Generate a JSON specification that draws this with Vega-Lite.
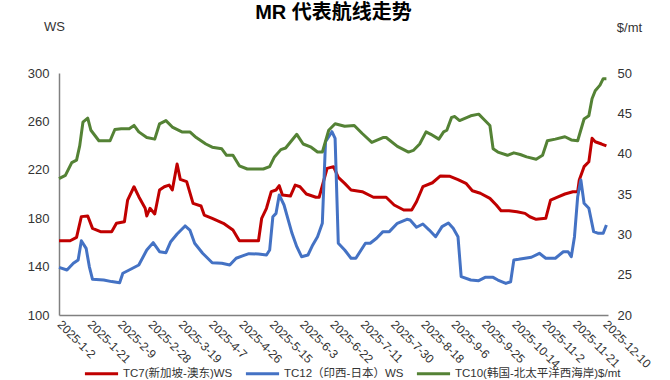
{
  "$schema": "https://vega.github.io/schema/vega-lite/v6.json",
  "width": 549,
  "height": 242,
  "autosize": {"type": "none"},
  "padding": {"left": 59, "top": 73, "right": 62, "bottom": 65},
  "background": "white",
  "config": {
    "view": {"stroke": null},
    "font": "Liberation Sans, Noto Sans CJK SC, sans-serif",
    "axis": {"grid": false, "ticks": false, "tickSize": 0, "labelFont": "Liberation Sans, Noto Sans CJK SC, sans-serif", "labelColor": "#333333", "labelFontSize": 13, "domainColor": "#808080", "domainWidth": 1.5, "titleFont": "Liberation Sans, Noto Sans CJK SC, sans-serif", "titleFontWeight": "normal", "titleColor": "#333333", "titleFontSize": 13}
  },
  "title": {
    "text": "MR  代表航线走势",
    "font": "Liberation Sans, Noto Sans CJK SC, sans-serif",
    "fontSize": 20,
    "fontWeight": "bold",
    "color": "#000000",
    "anchor": "middle",
    "frame": "group",
    "offset": -3
  },
  "data": {
    "values": [
      {"date": "2025-01-02", "series": "TC7", "value": 161.4},
      {"date": "2025-01-09", "series": "TC7", "value": 161.4},
      {"date": "2025-01-13", "series": "TC7", "value": 164.2},
      {"date": "2025-01-16", "series": "TC7", "value": 181.3},
      {"date": "2025-01-20", "series": "TC7", "value": 181.8},
      {"date": "2025-01-23", "series": "TC7", "value": 171.6},
      {"date": "2025-01-28", "series": "TC7", "value": 168.9},
      {"date": "2025-02-04", "series": "TC7", "value": 168.9},
      {"date": "2025-02-07", "series": "TC7", "value": 175.8},
      {"date": "2025-02-12", "series": "TC7", "value": 177.1},
      {"date": "2025-02-14", "series": "TC7", "value": 195.0},
      {"date": "2025-02-18", "series": "TC7", "value": 206.0},
      {"date": "2025-02-21", "series": "TC7", "value": 197.8},
      {"date": "2025-02-25", "series": "TC7", "value": 188.2},
      {"date": "2025-02-26", "series": "TC7", "value": 181.8},
      {"date": "2025-02-28", "series": "TC7", "value": 188.2},
      {"date": "2025-03-03", "series": "TC7", "value": 183.5},
      {"date": "2025-03-06", "series": "TC7", "value": 203.3},
      {"date": "2025-03-09", "series": "TC7", "value": 206.0},
      {"date": "2025-03-12", "series": "TC7", "value": 207.4},
      {"date": "2025-03-14", "series": "TC7", "value": 203.3},
      {"date": "2025-03-17", "series": "TC7", "value": 224.8},
      {"date": "2025-03-19", "series": "TC7", "value": 212.1},
      {"date": "2025-03-23", "series": "TC7", "value": 210.2},
      {"date": "2025-03-27", "series": "TC7", "value": 192.3},
      {"date": "2025-04-01", "series": "TC7", "value": 190.1},
      {"date": "2025-04-03", "series": "TC7", "value": 182.6},
      {"date": "2025-04-08", "series": "TC7", "value": 179.9},
      {"date": "2025-04-15", "series": "TC7", "value": 175.8},
      {"date": "2025-04-21", "series": "TC7", "value": 170.2},
      {"date": "2025-04-25", "series": "TC7", "value": 161.4},
      {"date": "2025-05-07", "series": "TC7", "value": 161.4},
      {"date": "2025-05-09", "series": "TC7", "value": 179.9},
      {"date": "2025-05-12", "series": "TC7", "value": 188.2},
      {"date": "2025-05-15", "series": "TC7", "value": 201.9},
      {"date": "2025-05-18", "series": "TC7", "value": 203.3},
      {"date": "2025-05-20", "series": "TC7", "value": 206.9},
      {"date": "2025-05-22", "series": "TC7", "value": 199.2},
      {"date": "2025-05-27", "series": "TC7", "value": 198.3},
      {"date": "2025-05-30", "series": "TC7", "value": 207.4},
      {"date": "2025-06-02", "series": "TC7", "value": 206.0},
      {"date": "2025-06-06", "series": "TC7", "value": 200.0},
      {"date": "2025-06-12", "series": "TC7", "value": 197.3},
      {"date": "2025-06-14", "series": "TC7", "value": 197.3},
      {"date": "2025-06-19", "series": "TC7", "value": 221.2},
      {"date": "2025-06-23", "series": "TC7", "value": 222.6},
      {"date": "2025-06-26", "series": "TC7", "value": 213.8},
      {"date": "2025-06-30", "series": "TC7", "value": 208.8},
      {"date": "2025-07-04", "series": "TC7", "value": 203.3},
      {"date": "2025-07-11", "series": "TC7", "value": 201.9},
      {"date": "2025-07-18", "series": "TC7", "value": 197.3},
      {"date": "2025-07-26", "series": "TC7", "value": 197.3},
      {"date": "2025-07-31", "series": "TC7", "value": 190.9},
      {"date": "2025-08-06", "series": "TC7", "value": 186.8},
      {"date": "2025-08-11", "series": "TC7", "value": 186.8},
      {"date": "2025-08-14", "series": "TC7", "value": 193.6},
      {"date": "2025-08-18", "series": "TC7", "value": 206.0},
      {"date": "2025-08-24", "series": "TC7", "value": 209.3},
      {"date": "2025-08-29", "series": "TC7", "value": 214.9},
      {"date": "2025-09-04", "series": "TC7", "value": 214.6},
      {"date": "2025-09-09", "series": "TC7", "value": 211.9},
      {"date": "2025-09-14", "series": "TC7", "value": 208.8},
      {"date": "2025-09-18", "series": "TC7", "value": 202.7},
      {"date": "2025-09-23", "series": "TC7", "value": 200.6},
      {"date": "2025-09-29", "series": "TC7", "value": 196.4},
      {"date": "2025-10-03", "series": "TC7", "value": 190.9},
      {"date": "2025-10-06", "series": "TC7", "value": 186.2},
      {"date": "2025-10-11", "series": "TC7", "value": 186.2},
      {"date": "2025-10-16", "series": "TC7", "value": 185.4},
      {"date": "2025-10-21", "series": "TC7", "value": 184.0},
      {"date": "2025-10-24", "series": "TC7", "value": 181.2},
      {"date": "2025-10-28", "series": "TC7", "value": 179.1},
      {"date": "2025-11-03", "series": "TC7", "value": 179.9},
      {"date": "2025-11-06", "series": "TC7", "value": 195.0},
      {"date": "2025-11-10", "series": "TC7", "value": 197.3},
      {"date": "2025-11-15", "series": "TC7", "value": 200.0},
      {"date": "2025-11-20", "series": "TC7", "value": 201.9},
      {"date": "2025-11-23", "series": "TC7", "value": 201.9},
      {"date": "2025-11-24", "series": "TC7", "value": 211.6},
      {"date": "2025-11-27", "series": "TC7", "value": 222.6},
      {"date": "2025-11-30", "series": "TC7", "value": 226.7},
      {"date": "2025-12-02", "series": "TC7", "value": 246.0},
      {"date": "2025-12-04", "series": "TC7", "value": 243.2},
      {"date": "2025-12-08", "series": "TC7", "value": 241.3},
      {"date": "2025-12-11", "series": "TC7", "value": 239.7},

      {"date": "2025-01-02", "series": "TC12", "value": 139.4},
      {"date": "2025-01-07", "series": "TC12", "value": 137.2},
      {"date": "2025-01-11", "series": "TC12", "value": 142.7},
      {"date": "2025-01-14", "series": "TC12", "value": 145.5},
      {"date": "2025-01-16", "series": "TC12", "value": 161.4},
      {"date": "2025-01-19", "series": "TC12", "value": 155.1},
      {"date": "2025-01-21", "series": "TC12", "value": 140.0},
      {"date": "2025-01-23", "series": "TC12", "value": 129.5},
      {"date": "2025-01-30", "series": "TC12", "value": 128.9},
      {"date": "2025-02-04", "series": "TC12", "value": 127.6},
      {"date": "2025-02-09", "series": "TC12", "value": 126.7},
      {"date": "2025-02-11", "series": "TC12", "value": 134.5},
      {"date": "2025-02-15", "series": "TC12", "value": 137.2},
      {"date": "2025-02-21", "series": "TC12", "value": 141.3},
      {"date": "2025-02-26", "series": "TC12", "value": 153.7},
      {"date": "2025-03-02", "series": "TC12", "value": 159.8},
      {"date": "2025-03-06", "series": "TC12", "value": 152.3},
      {"date": "2025-03-10", "series": "TC12", "value": 151.5},
      {"date": "2025-03-13", "series": "TC12", "value": 160.6},
      {"date": "2025-03-17", "series": "TC12", "value": 166.9},
      {"date": "2025-03-22", "series": "TC12", "value": 173.6},
      {"date": "2025-03-25", "series": "TC12", "value": 170.2},
      {"date": "2025-03-28", "series": "TC12", "value": 159.3},
      {"date": "2025-04-02", "series": "TC12", "value": 151.0},
      {"date": "2025-04-08", "series": "TC12", "value": 143.2},
      {"date": "2025-04-14", "series": "TC12", "value": 142.7},
      {"date": "2025-04-19", "series": "TC12", "value": 141.3},
      {"date": "2025-04-23", "series": "TC12", "value": 146.9},
      {"date": "2025-04-27", "series": "TC12", "value": 148.8},
      {"date": "2025-05-01", "series": "TC12", "value": 150.7},
      {"date": "2025-05-07", "series": "TC12", "value": 150.4},
      {"date": "2025-05-12", "series": "TC12", "value": 149.6},
      {"date": "2025-05-14", "series": "TC12", "value": 153.7},
      {"date": "2025-05-16", "series": "TC12", "value": 181.2},
      {"date": "2025-05-18", "series": "TC12", "value": 184.0},
      {"date": "2025-05-20", "series": "TC12", "value": 199.2},
      {"date": "2025-05-23", "series": "TC12", "value": 190.9},
      {"date": "2025-05-28", "series": "TC12", "value": 167.5},
      {"date": "2025-05-31", "series": "TC12", "value": 156.5},
      {"date": "2025-06-03", "series": "TC12", "value": 148.2},
      {"date": "2025-06-07", "series": "TC12", "value": 149.6},
      {"date": "2025-06-10", "series": "TC12", "value": 157.9},
      {"date": "2025-06-13", "series": "TC12", "value": 164.7},
      {"date": "2025-06-16", "series": "TC12", "value": 175.8},
      {"date": "2025-06-18", "series": "TC12", "value": 243.2},
      {"date": "2025-06-22", "series": "TC12", "value": 251.5},
      {"date": "2025-06-24", "series": "TC12", "value": 246.0},
      {"date": "2025-06-26", "series": "TC12", "value": 159.3},
      {"date": "2025-06-30", "series": "TC12", "value": 153.7},
      {"date": "2025-07-04", "series": "TC12", "value": 146.9},
      {"date": "2025-07-07", "series": "TC12", "value": 146.9},
      {"date": "2025-07-13", "series": "TC12", "value": 159.3},
      {"date": "2025-07-16", "series": "TC12", "value": 159.3},
      {"date": "2025-07-20", "series": "TC12", "value": 163.4},
      {"date": "2025-07-24", "series": "TC12", "value": 168.9},
      {"date": "2025-07-28", "series": "TC12", "value": 168.9},
      {"date": "2025-08-02", "series": "TC12", "value": 175.8},
      {"date": "2025-08-08", "series": "TC12", "value": 179.1},
      {"date": "2025-08-10", "series": "TC12", "value": 178.5},
      {"date": "2025-08-14", "series": "TC12", "value": 172.5},
      {"date": "2025-08-18", "series": "TC12", "value": 175.2},
      {"date": "2025-08-22", "series": "TC12", "value": 170.2},
      {"date": "2025-08-26", "series": "TC12", "value": 164.7},
      {"date": "2025-08-30", "series": "TC12", "value": 173.0},
      {"date": "2025-09-03", "series": "TC12", "value": 176.0},
      {"date": "2025-09-06", "series": "TC12", "value": 171.6},
      {"date": "2025-09-09", "series": "TC12", "value": 164.7},
      {"date": "2025-09-11", "series": "TC12", "value": 131.7},
      {"date": "2025-09-17", "series": "TC12", "value": 128.9},
      {"date": "2025-09-22", "series": "TC12", "value": 128.4},
      {"date": "2025-09-26", "series": "TC12", "value": 131.1},
      {"date": "2025-10-01", "series": "TC12", "value": 131.1},
      {"date": "2025-10-04", "series": "TC12", "value": 128.9},
      {"date": "2025-10-09", "series": "TC12", "value": 126.1},
      {"date": "2025-10-12", "series": "TC12", "value": 127.5},
      {"date": "2025-10-14", "series": "TC12", "value": 145.5},
      {"date": "2025-10-17", "series": "TC12", "value": 146.0},
      {"date": "2025-10-21", "series": "TC12", "value": 146.9},
      {"date": "2025-10-25", "series": "TC12", "value": 147.7},
      {"date": "2025-10-30", "series": "TC12", "value": 151.0},
      {"date": "2025-11-03", "series": "TC12", "value": 146.9},
      {"date": "2025-11-09", "series": "TC12", "value": 146.9},
      {"date": "2025-11-14", "series": "TC12", "value": 152.3},
      {"date": "2025-11-17", "series": "TC12", "value": 152.3},
      {"date": "2025-11-19", "series": "TC12", "value": 148.2},
      {"date": "2025-11-21", "series": "TC12", "value": 164.7},
      {"date": "2025-11-23", "series": "TC12", "value": 197.8},
      {"date": "2025-11-25", "series": "TC12", "value": 211.6},
      {"date": "2025-11-27", "series": "TC12", "value": 192.3},
      {"date": "2025-11-30", "series": "TC12", "value": 188.2},
      {"date": "2025-12-03", "series": "TC12", "value": 168.9},
      {"date": "2025-12-06", "series": "TC12", "value": 167.5},
      {"date": "2025-12-09", "series": "TC12", "value": 167.5},
      {"date": "2025-12-11", "series": "TC12", "value": 174.4},

      {"date": "2025-01-02", "series": "TC10", "value": 36.9},
      {"date": "2025-01-06", "series": "TC10", "value": 37.3},
      {"date": "2025-01-10", "series": "TC10", "value": 38.9},
      {"date": "2025-01-13", "series": "TC10", "value": 39.2},
      {"date": "2025-01-15", "series": "TC10", "value": 41.0},
      {"date": "2025-01-17", "series": "TC10", "value": 43.9},
      {"date": "2025-01-20", "series": "TC10", "value": 44.4},
      {"date": "2025-01-22", "series": "TC10", "value": 42.9},
      {"date": "2025-01-27", "series": "TC10", "value": 41.6},
      {"date": "2025-02-03", "series": "TC10", "value": 41.6},
      {"date": "2025-02-06", "series": "TC10", "value": 43.0},
      {"date": "2025-02-10", "series": "TC10", "value": 43.1},
      {"date": "2025-02-15", "series": "TC10", "value": 43.1},
      {"date": "2025-02-18", "series": "TC10", "value": 43.5},
      {"date": "2025-02-21", "series": "TC10", "value": 42.7},
      {"date": "2025-02-26", "series": "TC10", "value": 42.0},
      {"date": "2025-03-03", "series": "TC10", "value": 41.8},
      {"date": "2025-03-06", "series": "TC10", "value": 43.7},
      {"date": "2025-03-10", "series": "TC10", "value": 44.1},
      {"date": "2025-03-14", "series": "TC10", "value": 43.3},
      {"date": "2025-03-20", "series": "TC10", "value": 42.7},
      {"date": "2025-03-25", "series": "TC10", "value": 42.7},
      {"date": "2025-03-29", "series": "TC10", "value": 42.0},
      {"date": "2025-04-04", "series": "TC10", "value": 41.2},
      {"date": "2025-04-08", "series": "TC10", "value": 40.8},
      {"date": "2025-04-14", "series": "TC10", "value": 40.6},
      {"date": "2025-04-17", "series": "TC10", "value": 39.8},
      {"date": "2025-04-21", "series": "TC10", "value": 39.8},
      {"date": "2025-04-25", "series": "TC10", "value": 38.5},
      {"date": "2025-04-30", "series": "TC10", "value": 38.1},
      {"date": "2025-05-08", "series": "TC10", "value": 38.1},
      {"date": "2025-05-10", "series": "TC10", "value": 38.1},
      {"date": "2025-05-14", "series": "TC10", "value": 38.4},
      {"date": "2025-05-17", "series": "TC10", "value": 39.6},
      {"date": "2025-05-21", "series": "TC10", "value": 40.5},
      {"date": "2025-05-24", "series": "TC10", "value": 40.7},
      {"date": "2025-05-31", "series": "TC10", "value": 42.4},
      {"date": "2025-06-04", "series": "TC10", "value": 41.2},
      {"date": "2025-06-09", "series": "TC10", "value": 40.8},
      {"date": "2025-06-13", "series": "TC10", "value": 40.2},
      {"date": "2025-06-16", "series": "TC10", "value": 40.2},
      {"date": "2025-06-20", "series": "TC10", "value": 42.9},
      {"date": "2025-06-24", "series": "TC10", "value": 43.7},
      {"date": "2025-06-30", "series": "TC10", "value": 43.4},
      {"date": "2025-07-06", "series": "TC10", "value": 43.5},
      {"date": "2025-07-11", "series": "TC10", "value": 42.5},
      {"date": "2025-07-17", "series": "TC10", "value": 41.4},
      {"date": "2025-07-24", "series": "TC10", "value": 42.0},
      {"date": "2025-07-26", "series": "TC10", "value": 42.0},
      {"date": "2025-08-02", "series": "TC10", "value": 40.9},
      {"date": "2025-08-09", "series": "TC10", "value": 40.2},
      {"date": "2025-08-12", "series": "TC10", "value": 40.4},
      {"date": "2025-08-16", "series": "TC10", "value": 41.2},
      {"date": "2025-08-20", "series": "TC10", "value": 42.7},
      {"date": "2025-08-23", "series": "TC10", "value": 42.4},
      {"date": "2025-08-28", "series": "TC10", "value": 41.8},
      {"date": "2025-08-31", "series": "TC10", "value": 42.7},
      {"date": "2025-09-02", "series": "TC10", "value": 42.9},
      {"date": "2025-09-05", "series": "TC10", "value": 44.5},
      {"date": "2025-09-07", "series": "TC10", "value": 44.6},
      {"date": "2025-09-10", "series": "TC10", "value": 44.1},
      {"date": "2025-09-17", "series": "TC10", "value": 44.7},
      {"date": "2025-09-22", "series": "TC10", "value": 44.9},
      {"date": "2025-09-25", "series": "TC10", "value": 44.3},
      {"date": "2025-09-29", "series": "TC10", "value": 43.5},
      {"date": "2025-10-01", "series": "TC10", "value": 40.6},
      {"date": "2025-10-04", "series": "TC10", "value": 40.2},
      {"date": "2025-10-10", "series": "TC10", "value": 39.8},
      {"date": "2025-10-14", "series": "TC10", "value": 40.1},
      {"date": "2025-10-18", "series": "TC10", "value": 39.9},
      {"date": "2025-10-22", "series": "TC10", "value": 39.6},
      {"date": "2025-10-28", "series": "TC10", "value": 39.3},
      {"date": "2025-11-01", "series": "TC10", "value": 39.8},
      {"date": "2025-11-04", "series": "TC10", "value": 41.6},
      {"date": "2025-11-09", "series": "TC10", "value": 41.8},
      {"date": "2025-11-15", "series": "TC10", "value": 42.1},
      {"date": "2025-11-19", "series": "TC10", "value": 41.7},
      {"date": "2025-11-23", "series": "TC10", "value": 41.6},
      {"date": "2025-11-27", "series": "TC10", "value": 44.3},
      {"date": "2025-11-30", "series": "TC10", "value": 44.7},
      {"date": "2025-12-02", "series": "TC10", "value": 46.8},
      {"date": "2025-12-04", "series": "TC10", "value": 47.8},
      {"date": "2025-12-07", "series": "TC10", "value": 48.5},
      {"date": "2025-12-09", "series": "TC10", "value": 49.3},
      {"date": "2025-12-11", "series": "TC10", "value": 49.3}
    ]
  },
  "encoding": {
    "x": {
      "field": "date", "type": "temporal",
      "scale": {"type": "utc", "domain": [1735776000000, 1765497600000]},
      "axis": {
        "title": null, "format": "%Y-%-m-%-d", "labelAngle": 45, "labelAlign": "left", "labelBaseline": "middle",
        "labelPadding": 7, "labelFontSize": 12, "labelOverlap": false, "labelBound": false, "labelFlush": false,
        "values": [1735776000000, 1737417600000, 1739059200000, 1740700800000, 1742342400000, 1743984000000, 1745625600000, 1747267200000, 1748908800000, 1750550400000, 1752192000000, 1753833600000, 1755475200000, 1757116800000, 1758758400000, 1760400000000, 1762041600000, 1763683200000, 1765324800000]
      }
    },
    "color": {
      "field": "series", "type": "nominal",
      "scale": {"domain": ["TC7", "TC12", "TC10"], "range": ["#C00000", "#4472C4", "#548235"]},
      "legend": {
        "orient": "none", "legendX": 24, "legendY": 282, "direction": "horizontal", "title": null,
        "symbolType": "stroke", "symbolStrokeWidth": 3, "symbolSize": 1100, "labelFontSize": 11.5, "labelColor": "#333333",
        "labelOffset": 3, "columnPadding": 6, "labelLimit": 300,
        "labelExpr": "datum.label == 'TC7' ? 'TC7(新加坡-澳东)WS' : datum.label == 'TC12' ? 'TC12（印西-日本）WS' : 'TC10(韩国-北太平洋西海岸)$/mt'"
      }
    }
  },
  "layer": [
    {
      "transform": [{"filter": "datum.series !== 'TC10'"}],
      "mark": {"type": "line", "strokeWidth": 3, "strokeJoin": "round"},
      "encoding": {
        "y": {
          "field": "value", "type": "quantitative",
          "scale": {"domain": [100, 300], "nice": false, "zero": false},
          "axis": {"orient": "left", "values": [100, 140, 180, 220, 260, 300], "labelPadding": 10, "title": "WS", "titleAngle": 0, "titleAlign": "center", "titleBaseline": "middle", "titleX": -5, "titleY": -47}
        }
      }
    },
    {
      "transform": [{"filter": "datum.series === 'TC10'"}],
      "mark": {"type": "line", "strokeWidth": 3, "strokeJoin": "round"},
      "encoding": {
        "y": {
          "field": "value", "type": "quantitative",
          "scale": {"domain": [20, 50], "nice": false, "zero": false},
          "axis": {"orient": "right", "domain": false, "values": [20, 25, 30, 35, 40, 45, 50], "labelPadding": 9, "title": "$/mt", "titleAngle": 0, "titleAlign": "center", "titleBaseline": "middle", "titleX": 21, "titleY": -46}
        }
      }
    }
  ],
  "resolve": {"scale": {"y": "independent"}}
}
